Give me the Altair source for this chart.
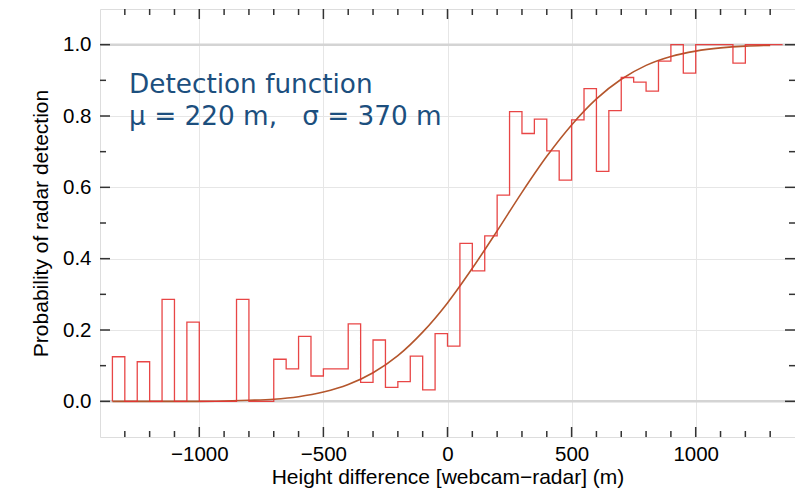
import altair as alt
import pandas as pd

# ---------------- data ----------------
bin_left = [-1350, -1300, -1250, -1200, -1150, -1100, -1050, -1000, -950, -900,
            -850, -800, -750, -700, -650, -600, -550, -500, -450, -400,
            -350, -300, -250, -200, -150, -100, -50, 0, 50, 100,
            150, 200, 250, 300, 350, 400, 450, 500, 550, 600,
            650, 700, 750, 800, 850, 900, 950, 1000, 1050, 1100,
            1150, 1200, 1250, 1300]
bin_prob = [0.125, 0.0, 0.111, 0.0, 0.286, 0.0, 0.222, 0.0, 0.0, 0.0,
            0.286, 0.0, 0.0, 0.118, 0.091, 0.182, 0.071, 0.091, 0.091, 0.217,
            0.053, 0.172, 0.039, 0.055, 0.127, 0.032, 0.19, 0.155, 0.443, 0.366,
            0.464, 0.578, 0.812, 0.751, 0.791, 0.702, 0.620, 0.789, 0.877, 0.645,
            0.815, 0.908, 0.895, 0.870, 0.954, 1.0, 0.92, 1.0, 1.0, 1.0,
            0.948, 1.0, 1.0, 1.0]
bin_end = 1350

curve_x = [-1350, -1300, -1200, -1100, -1000, -900, -800, -700, -600, -500,
           -400, -300, -200, -100, 0, 100, 200, 300, 400, 500,
           600, 700, 800, 900, 1000, 1100, 1200, 1300]
curve_p = [0.0, 0.0, 0.0, 0.0, 0.0, 0.001, 0.003, 0.006, 0.013, 0.026,
           0.047, 0.080, 0.128, 0.194, 0.276, 0.373, 0.478, 0.586, 0.687, 0.775,
           0.848, 0.903, 0.942, 0.967, 0.982, 0.991, 0.996, 0.998]

x_major = [-1000, -500, 0, 500, 1000]
x_minor = [v for v in range(-1300, 1301, 100) if v % 500 != 0]
y_major = [0.0, 0.2, 0.4, 0.6, 0.8, 1.0]
y_minor = [0.1, 0.3, 0.5, 0.7, 0.9]

annot_lines = ["Detection function", "\u03bc = 220 m, \u00a0\u00a0\u03c3 = 370 m"]

# ---------------- tables ----------------
step_x = [bin_left[0]] + bin_left + [bin_end]
step_y = [0.0] + bin_prob + [bin_prob[-1]]
step_df = pd.DataFrame({"x": step_x, "p": step_y, "o": list(range(len(step_x)))})
curve_df = pd.DataFrame({"x": curve_x, "p": curve_p})

W, H = 695, 428
XDOM = [-1400, 1400]
YDOM = [-0.1, 1.1]
FONT = "Liberation Sans"

xs = alt.Scale(domain=XDOM, nice=False, zero=False)
ys = alt.Scale(domain=YDOM, nice=False, zero=False)

x_axis = alt.Axis(values=x_major, format="d", ticks=False, domain=False, grid=True,
                  gridColor="#e6e6e6", gridWidth=1, labelFont=FONT, labelFontSize=20.5,
                  labelColor="black", labelPadding=7, title="Height difference [webcam\u2212radar] (m)",
                  titleFont=FONT, titleFontSize=21, titleFontWeight="normal", titleColor="black",
                  titleBaseline="alphabetic", titleY=46)
y_axis = alt.Axis(values=y_major, format=".1f", ticks=False, domain=False, grid=True,
                  gridColor="#e6e6e6", gridWidth=1, labelFont=FONT, labelFontSize=20.5,
                  labelColor="black", labelPadding=9, title="Probability of radar detection",
                  titleFont=FONT, titleFontSize=21, titleFontWeight="normal", titleColor="black",
                  titleBaseline="alphabetic", titleX=-53, titleY=H / 2, titleAngle=-90,
                  titleAlign="center")

base_axes = alt.Chart(pd.DataFrame({"x": [XDOM[0]], "p": [YDOM[0]]})).mark_point(opacity=0).encode(
    x=alt.X("x:Q", scale=xs, axis=x_axis),
    y=alt.Y("p:Q", scale=ys, axis=y_axis),
)

ref_lines = alt.Chart(pd.DataFrame({"p": [0.0, 1.0]})).mark_rule(
    color="#d4d4d4", strokeWidth=2.5
).encode(y=alt.Y("p:Q", scale=ys))

curve = alt.Chart(curve_df).mark_line(
    color="#b4562c", strokeWidth=1.6, interpolate="monotone"
).encode(x=alt.X("x:Q", scale=xs), y=alt.Y("p:Q", scale=ys))

steps = alt.Chart(step_df).mark_line(
    color="#e63232", strokeWidth=1.3, interpolate="step-after", opacity=0.9
).encode(x=alt.X("x:Q", scale=xs), y=alt.Y("p:Q", scale=ys), order="o:Q")

TICK = "#333333"
def xticks(vals, length):
    d = pd.DataFrame({"x": vals})
    bot = alt.Chart(d).mark_rule(color=TICK, strokeWidth=1.5).encode(
        x=alt.X("x:Q", scale=xs), y=alt.value(H), y2=alt.value(H - length))
    top = alt.Chart(d).mark_rule(color=TICK, strokeWidth=1.5).encode(
        x=alt.X("x:Q", scale=xs), y=alt.value(0), y2=alt.value(length))
    return bot + top

def yticks(vals, length):
    d = pd.DataFrame({"p": vals})
    left = alt.Chart(d).mark_rule(color=TICK, strokeWidth=1.5).encode(
        y=alt.Y("p:Q", scale=ys), x=alt.value(0), x2=alt.value(length))
    right = alt.Chart(d).mark_rule(color=TICK, strokeWidth=1.5).encode(
        y=alt.Y("p:Q", scale=ys), x=alt.value(W), x2=alt.value(W - length))
    return left + right

annot = alt.Chart(pd.DataFrame({"t": annot_lines, "x": [-1283, -1283], "p": [0.8635, 0.7746]})).mark_text(
    align="left", baseline="alphabetic", font="DejaVu Sans", fontSize=26.3, color="#1c4f7e"
).encode(x=alt.X("x:Q", scale=xs), y=alt.Y("p:Q", scale=ys), text="t:N")

chart = alt.layer(
    base_axes, ref_lines, curve, steps,
    xticks(x_major, 10), xticks(x_minor, 6),
    yticks(y_major, 10), yticks(y_minor, 6),
    annot,
).properties(
    width=W, height=H,
    autosize=alt.AutoSizeParams(type="none"),
    padding={"left": 92, "top": 1, "right": 0, "bottom": 51},
).configure_view(
    stroke="#222222", strokeWidth=1.6
).configure(background="white")

chart.save("out.html", embed_options={"renderer": "svg", "actions": False})
